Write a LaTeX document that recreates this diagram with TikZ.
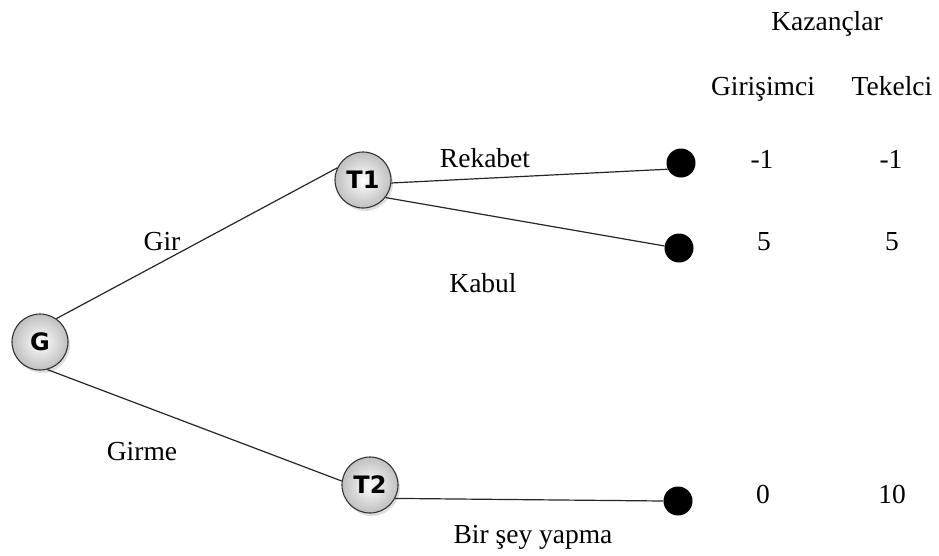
\documentclass[tikz,border=0pt]{standalone}
\usepackage{fontspec}
\setmainfont{Liberation Serif}
\newfontfamily\nodefont{DejaVu Sans}
\usetikzlibrary{shadows}
\begin{document}
\begin{tikzpicture}[x=1pt,y=-1pt,
  player/.style={circle, minimum size=56pt, inner sep=0pt, draw=black!80, line width=1.1pt,
    inner color=white, outer color=black!25,
    drop shadow={shadow xshift=2pt, shadow yshift=-3pt, opacity=0.25},
    font=\nodefont\bfseries\fontsize{24}{26}\selectfont},
  leaf/.style={circle, fill=black, minimum size=29pt, inner sep=0pt},
  branch/.style={line width=1.2pt, black!85},
  lbl/.style={anchor=base, inner sep=0pt, font=\fontsize{27.5}{30}\selectfont}]
\useasboundingbox (0,0) rectangle (939,555);

% decision nodes
\node[player] (G)  at (40,342) {G};
\node[player] (T1) at (363,180) {T1};
\node[player] (T2) at (370,485) {T2};

% terminal nodes
\node[leaf] (E1) at (681,163) {};
\node[leaf] (E2) at (679,248) {};
\node[leaf] (E3) at (678,501) {};

% branches
\draw[branch] (G.55) -- (T1.155);
\draw[branch] (G.-75) -- (T2.172);
\draw[branch] (T1.-6) -- (E1.205);
\draw[branch] (T1.-38) -- (E2.172);
\draw[branch] (T2.-28) -- (E3.180);

% action labels
\node[lbl] (lgir)    at (162,250) {Gir};
\node[lbl] (lgirme)  at (142,460) {Girme};
\node[lbl] (lrek)    at (485,167) {Rekabet};
\node[lbl] (lkab)    at (483,292) {Kabul};
\node[lbl] (lbir)    at (533,543) {Bir şey yapma};

% payoff table
\node[lbl] (hkaz) at (827,30) {Kazançlar};
\node[lbl] (hgir) at (763,95) {Girişimci};
\node[lbl] (htek) at (892,95) {Tekelci};
\node[lbl] (p1a) at (762,168) {-1};
\node[lbl] (p1b) at (891,168) {-1};
\node[lbl] (p2a) at (764,250) {5};
\node[lbl] (p2b) at (892,250) {5};
\node[lbl] (p3a) at (763,503) {0};
\node[lbl] (p3b) at (892,503) {10};
\end{tikzpicture}
\end{document}
